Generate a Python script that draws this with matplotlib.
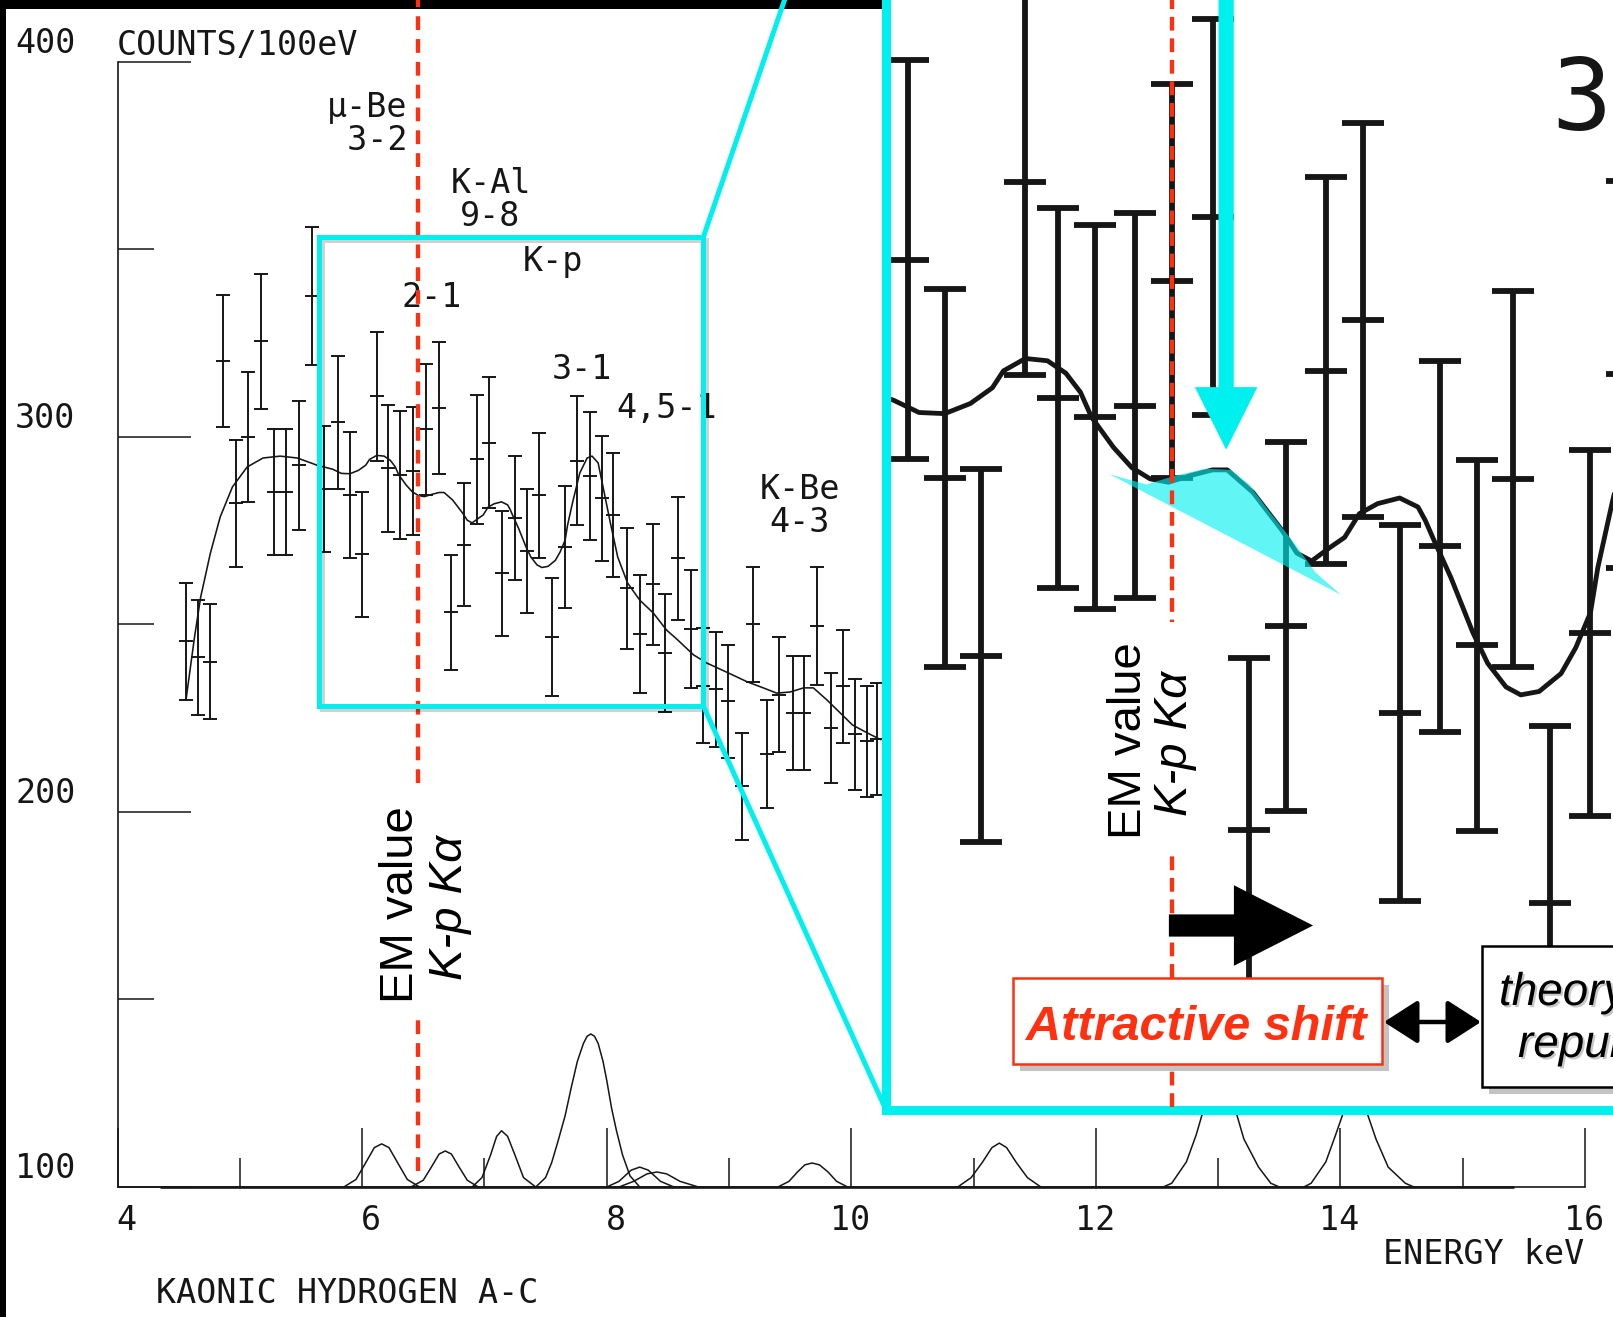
import numpy as np
import matplotlib
matplotlib.use("Agg")
import matplotlib.pyplot as plt
import matplotlib.patheffects as pe
import matplotlib.transforms as mtransforms
from matplotlib.patches import ConnectionPatch, FancyArrowPatch, Rectangle

# kaonic hydrogen spectrum, counts per 100 eV bin with statistical errors
energy = [4.56, 4.66, 4.76, 4.86, 4.97, 5.07, 5.17, 5.28, 5.38, 5.48,
          5.59, 5.69, 5.80, 5.90, 6.00, 6.12, 6.21, 6.31, 6.42, 6.52,
          6.63, 6.73, 6.83, 6.94, 7.04, 7.14, 7.25, 7.35, 7.45, 7.55,
          7.66, 7.76, 7.86, 7.96, 8.05, 8.17, 8.27, 8.38, 8.48, 8.58,
          8.69, 8.79, 8.89, 8.99, 9.11, 9.20, 9.31, 9.41, 9.52, 9.61,
          9.72, 9.83, 9.93, 10.03, 10.13, 10.21]
counts = [245.5, 241.2, 240.1, 320.3, 282.3, 300.0, 325.5, 285.3, 285.3, 292.4,
          337.6, 286.0, 303.9, 284.5, 268.7, 310.8, 291.6, 289.9, 290.9, 302.0,
          307.7, 253.2, 271.3, 294.0, 298.5, 263.6, 278.4, 269.6, 284.4, 246.7,
          270.7, 293.7, 289.6, 283.6, 279.2, 259.6, 247.5, 260.7, 242.4, 267.6,
          248.8, 233.7, 232.7, 229.5, 206.8, 250.0, 215.5, 231.3, 226.4, 226.4,
          249.6, 222.4, 233.5, 220.7, 218.8, 219.5]
errors = [15.6, 15.3, 15.3, 17.6, 16.9, 17.3, 18.0, 16.8, 16.8, 17.2,
          18.4, 16.8, 17.7, 16.8, 16.6, 17.2, 16.9, 17.1, 17.1, 17.5,
          17.6, 15.3, 16.4, 17.2, 17.5, 16.7, 16.5, 16.5, 16.7, 15.7,
          16.3, 17.2, 17.1, 16.7, 16.5, 16.1, 15.7, 16.1, 15.7, 16.4,
          15.7, 15.3, 15.3, 15.1, 14.3, 15.3, 14.4, 15.3, 15.2, 15.2,
          15.7, 14.7, 15.1, 14.8, 14.8, 14.9]

# fitted line through the spectrum
fit_energy = [4.56, 4.63, 4.68, 4.76, 4.84, 4.94, 5.06, 5.19, 5.33, 5.47,
              5.63, 5.76, 5.83, 5.90, 5.97, 6.03, 6.06, 6.12, 6.18, 6.23,
              6.27, 6.30, 6.36, 6.41, 6.46, 6.51, 6.57, 6.63, 6.67, 6.74,
              6.82, 6.86, 6.90, 6.95, 6.99, 7.03, 7.08, 7.14, 7.19, 7.21,
              7.23, 7.28, 7.34, 7.38, 7.43, 7.47, 7.52, 7.58, 7.62, 7.66,
              7.68, 7.72, 7.78, 7.84, 7.88, 7.93, 7.97, 8.03, 8.09, 8.17,
              8.27, 8.38, 8.49, 8.58, 8.71, 8.82, 8.98, 9.15, 9.28, 9.39,
              9.50, 9.61, 9.69, 9.80, 9.91, 10.01, 10.13, 10.24]
fit_counts = [229.9, 246.7, 257.3, 269.1, 278.7, 286.7, 292.0, 294.4, 294.9, 294.4,
              292.5, 291.4, 290.3, 290.2, 291.1, 292.5, 294.0, 295.1, 294.9, 293.8,
              292.1, 289.9, 287.2, 285.4, 284.4, 284.1, 284.7, 285.2, 285.2, 283.2,
              279.8, 277.8, 277.1, 278.3, 279.2, 281.3, 282.2, 282.7, 281.9, 280.7,
              279.2, 275.6, 270.7, 268.0, 265.9, 265.2, 265.5, 267.1, 269.4, 272.5,
              276.5, 282.4, 290.4, 294.4, 294.9, 293.1, 286.7, 277.1, 268.0, 261.1,
              256.5, 253.1, 248.5, 245.9, 241.9, 239.7, 237.3, 234.7, 233.1, 231.7,
              232.0, 233.1, 233.1, 229.9, 226.4, 223.2, 221.1, 219.3]

# fit components sitting on the 100-count baseline
comp_energy = [
    [5.85, 5.95, 6.03, 6.10, 6.16, 6.22, 6.29, 6.37, 6.47],
    [6.40, 6.50, 6.57, 6.63, 6.68, 6.73, 6.79, 6.86, 6.95],
    [6.90, 6.98, 7.05, 7.10, 7.14, 7.19, 7.25, 7.32, 7.42],
    [7.42, 7.50, 7.55, 7.60, 7.66, 7.71, 7.76, 7.81, 7.84, 7.87, 7.90, 7.93, 7.97,
     8.00, 8.04, 8.08, 8.13, 8.19, 8.27],
    [8.00, 8.10, 8.20, 8.27, 8.34, 8.44, 8.55],
    [8.10, 8.22, 8.33, 8.41, 8.49, 8.60, 8.75],
    [9.40, 9.49, 9.56, 9.62, 9.68, 9.74, 9.81, 9.88, 9.97],
    [10.87, 10.98, 11.07, 11.15, 11.21, 11.27, 11.35, 11.44, 11.55],
    [12.55, 12.62, 12.74, 12.82, 12.87, 12.94, 13.01, 13.08, 13.15, 13.21, 13.33, 13.43, 13.50],
    [13.70, 13.76, 13.88, 13.96, 14.02, 14.07, 14.12, 14.17, 14.22, 14.29, 14.39, 14.53, 14.60],
]
comp_counts = [
    [100, 102, 106.5, 110.5, 111.5, 110.5, 106.5, 102, 100],
    [100, 101.8, 105.5, 108.8, 109.6, 108.8, 105.5, 101.8, 100],
    [100, 102.5, 108.5, 113.5, 115, 113.5, 108.5, 102.5, 100],
    [100, 102.5, 106.5, 112, 119, 126.5, 133.5, 138.3, 140.2, 140.8, 140.2, 138.3, 133.5,
     128.5, 121, 115, 108.5, 103, 100],
    [100, 101.5, 104.5, 105.3, 104.5, 101.5, 100],
    [100, 101.5, 103.5, 104, 103.5, 101.5, 100],
    [100, 101.5, 104, 105.9, 106.4, 105.9, 104, 101.5, 100],
    [100, 102.5, 106.5, 110.5, 111.7, 110.5, 106.5, 102.5, 100],
    [100, 101, 106.7, 113.9, 119.5, 125, 127, 125, 119.5, 112.8, 105.3, 101, 100],
    [100, 101, 106.7, 113.9, 119.5, 123, 124.4, 123, 119.5, 112.8, 105.3, 101, 100],
]

# transition labels (centre of each label block)
label_text = ["\u03bc-Be\n 3-2", "K-Al\n9-8", "K-p", "2-1", "3-1", "4,5-1", "K-Be\n4-3"]
label_kev = [6.04, 7.05, 7.56, 6.57, 7.80, 8.49, 9.58]
label_counts = [383.5, 363.2, 346.9, 337.3, 317.9, 307.7, 281.6]

x_major = [4, 6, 8, 10, 12, 14, 16]
x_minor = [5, 7, 9, 11, 13, 15]
y_major = [100, 200, 300, 400]
y_minor = [150, 250, 350]

em_kev = 6.46        # EM value of the K-p K-alpha line
em_kev_inset = 6.52

# region shown magnified in the inset
zoom_kev = (5.65, 8.79)
zoom_counts = (228.3, 353.3)
inset_kev0 = 5.74
MAG = 3

# wedge marking the attractive shift below the fitted line
shift_kev = [6.35, 6.45, 6.53, 6.61, 6.68, 6.73, 6.78, 6.85, 6.91, 6.98]
shift_counts = [284.8, 283.9, 284.7, 285.3, 285.2, 283.9, 281.7, 278.8, 276.1, 274.1]

# ---------------------------------------------------------------------------
W, H, DPI = 1613, 1317, 100
PX_X4, PX_PER_KEV = 117.5, 122.3       # where 4 keV sits, pixels per keV
PX_Y300, PX_PER_COUNT = 437.0, 3.75    # where 300 counts sits, pixels per count
INSET_LEFT, INSET_BOTTOM = 886, 1110   # inset corner, pixels from top-left

INK = "#161616"
CYAN = "#00F0F0"
RED = "#FF3010"
SCAN_SIZE = 24
scan_font = dict(family="DejaVu Sans Mono", color=INK)
slide_font = "Liberation Sans"

fig = plt.figure(figsize=(W / DPI, H / DPI), dpi=DPI, facecolor="white")
px = mtransforms.Affine2D().scale(1 / W, -1 / H).translate(0, 1) + fig.transFigure

# black edges of the slide
fig.add_artist(Rectangle((0, 0), W, 9, transform=px, fc="black", ec="none", zorder=-1))
fig.add_artist(Rectangle((0, 0), 6, H, transform=px, fc="black", ec="none", zorder=-1))

ax = fig.add_axes([0, 0, 1, 1])
ax.patch.set_alpha(0)
ax.set_xlim(4 - PX_X4 / PX_PER_KEV, 4 + (W - PX_X4) / PX_PER_KEV)
ax.set_ylim(300 - (H - PX_Y300) / PX_PER_COUNT, 300 + PX_Y300 / PX_PER_COUNT)

for side in ("top", "right"):
    ax.spines[side].set_visible(False)
ax.spines["left"].set_position(("data", 4))
ax.spines["left"].set_bounds(100, 400)
ax.spines["bottom"].set_position(("data", 100))
ax.spines["bottom"].set_bounds(4, 16)
for side in ("left", "bottom"):
    ax.spines[side].set_linewidth(1.2)
    ax.spines[side].set_color(INK)

ax.set_xticks(x_major)
ax.set_xticks(x_minor, minor=True)
ax.set_yticks(y_major)
ax.set_yticks(y_minor, minor=True)
ax.tick_params(axis="x", which="major", direction="in", length=42.5, width=1.1, color=INK,
               labelbottom=False)
ax.tick_params(axis="x", which="minor", direction="in", length=21, width=1.1, color=INK)
ax.tick_params(axis="y", which="major", direction="in", length=52.5, width=1.1, color=INK,
               labelleft=False)
ax.tick_params(axis="y", which="minor", direction="in", length=26, width=1.1, color=INK)

xlab_off = mtransforms.ScaledTranslation(19 / DPI, -17 / DPI, fig.dpi_scale_trans)
for v in x_major:
    ax.text(v, 100, str(v), transform=ax.transData + xlab_off, ha="right", va="top",
            fontsize=SCAN_SIZE, **scan_font)
ylab_off = mtransforms.ScaledTranslation(-42 / DPI, 18 / DPI, fig.dpi_scale_trans)
for v in y_major:
    ax.text(4, v, str(v), transform=ax.transData + ylab_off, ha="right", va="center",
            fontsize=SCAN_SIZE, **scan_font)

ax.text(3.99, 404.3, "COUNTS/100eV", ha="left", va="center", fontsize=SCAN_SIZE, **scan_font)
ax.text(14.345, 81.9, "ENERGY keV", ha="left", va="center", fontsize=SCAN_SIZE, **scan_font)
ax.text(4.315, 71.5, "KAONIC HYDROGEN A-C", ha="left", va="center", fontsize=SCAN_SIZE,
        **scan_font)

# heavy baseline under the components
ax.plot([4.35, 15.42], [100, 100], color=INK, lw=1.9, solid_capstyle="butt")


def draw_spectrum(a, scale, xmax, ymax):
    a.errorbar(energy, counts, yerr=errors, fmt="_", color=INK, ms=10 * scale,
               mew=1.4 * scale, elinewidth=1.4 * scale, capsize=5 * scale,
               capthick=1.4 * scale)
    a.plot(fit_energy, fit_counts, color=INK, lw=1.15 * scale)
    for t, e, c in zip(label_text, label_kev, label_counts):
        if e < xmax and c < ymax:
            a.text(e, c, t, ha="center", va="center", multialignment="center",
                   linespacing=0.98, fontsize=SCAN_SIZE * scale, clip_on=True,
                   **scan_font)


draw_spectrum(ax, 1, 99, 999)
for ce, cc in zip(comp_energy, comp_counts):
    ax.plot(ce, cc, color=INK, lw=1.1)

ax.plot([em_kev, em_kev], [104.3, 420], color=RED, lw=3.1, dashes=(3.2, 2.1), zorder=5)

box = Rectangle((zoom_kev[0], zoom_counts[0]), zoom_kev[1] - zoom_kev[0],
                zoom_counts[1] - zoom_counts[0], fill=False, ec=CYAN, lw=3.6, zorder=6,
                path_effects=[pe.SimpleLineShadow(offset=(2, -2), alpha=0.18), pe.Normal()])
ax.add_patch(box)

# magnified inset
w_in = (zoom_kev[1] - zoom_kev[0]) * PX_PER_KEV * MAG
h_in = (zoom_counts[1] - zoom_counts[0]) * PX_PER_COUNT * MAG
ax_in = fig.add_axes([INSET_LEFT / W, 1 - INSET_BOTTOM / H, w_in / W, h_in / H], zorder=1)
ax_in.set_facecolor("white")
ax_in.set_xlim(inset_kev0, inset_kev0 + w_in / (PX_PER_KEV * MAG))
ax_in.set_ylim(*zoom_counts)
ax_in.set_xticks([])
ax_in.set_yticks([])
for s in ax_in.spines.values():
    s.set_color(CYAN)
    s.set_linewidth(6.5)

# part of the inset that lands on the page (labels may start just inside it)
vis_kev = inset_kev0 + (W - INSET_LEFT) / (PX_PER_KEV * MAG) + 0.5
vis_counts = zoom_counts[0] + INSET_BOTTOM / (PX_PER_COUNT * MAG)
draw_spectrum(ax_in, MAG, vis_kev, vis_counts)
ax_in.fill(shift_kev, shift_counts, color=CYAN, alpha=0.62, lw=0, zorder=4)
ax_in.plot([em_kev_inset, em_kev_inset], [228.6, 340], color=RED, lw=3.1,
           dashes=(3.2, 1.8), zorder=5)
ax_in.annotate("", xy=(6.667, 287.0), xytext=(6.667, 345),
               arrowprops=dict(width=11, headwidth=45, headlength=45, color=CYAN, lw=0,
                               shrink=0), zorder=6)
ax_in.annotate("", xy=(6.904, 244.7), xytext=(6.511, 244.7),
               arrowprops=dict(width=16, headwidth=58, headlength=57, color="black", lw=0,
                               shrink=0), zorder=6)

for xy_b in [(0, 1), (0, 0)]:
    yA = zoom_counts[1] if xy_b[1] == 1 else zoom_counts[0]
    con = ConnectionPatch(xyA=(zoom_kev[1], yA), coordsA=ax.transData,
                          xyB=xy_b, coordsB=ax_in.transAxes, color=CYAN, lw=3.6, zorder=1.5)
    fig.add_artist(con)

# EM value labels (main panel and inset), white gaps cut into the dashed lines
for (x0, y0, x1, y1) in [(366, 785, 470, 1018), (1093, 622, 1200, 856)]:
    fig.add_artist(Rectangle((x0, y0), x1 - x0, y1 - y0, transform=px, fc="white",
                             ec="none", zorder=2))
for bx1, bx2, yc in [(413, 462, 905), (1141, 1187, 741)]:
    fig.text(bx1, yc, "EM value", transform=px, rotation=90, rotation_mode="anchor",
             ha="center", va="baseline", fontsize=34, family=slide_font, color="black",
             zorder=4)
    fig.text(bx2, yc + 2, "K-p K\u03b1", transform=px, rotation=90, rotation_mode="anchor",
             ha="center", va="baseline", fontsize=34, family=slide_font, style="italic",
             color="black", zorder=4)

shadow = [pe.SimplePatchShadow(offset=(5, -5), shadow_rgbFace="#555555", alpha=0.35),
          pe.Normal()]
fig.add_artist(Rectangle((1013, 978), 369, 86, transform=px, fc="white", ec=RED, lw=1.8,
                         zorder=3, path_effects=shadow))
fig.text(1196.5, 1040, "Attractive shift", transform=px, ha="center", va="baseline",
         fontsize=35, family=slide_font, weight="bold", style="italic", color=RED, zorder=4)

fig.add_artist(Rectangle((1482, 946), 300, 141, transform=px, fc="white", ec="black",
                         lw=1.8, zorder=3, path_effects=shadow))
txt_shadow = [pe.SimplePatchShadow(offset=(1.5, -1.5), shadow_rgbFace="#777777", alpha=0.4),
              pe.Normal()]
fig.text(1499, 1005, "theory", transform=px, ha="left", va="baseline", fontsize=33,
         family=slide_font, style="italic", color="black", zorder=4, path_effects=txt_shadow)
fig.text(1518, 1057, "repulsive", transform=px, ha="left", va="baseline", fontsize=33,
         family=slide_font, style="italic", color="black", zorder=4, path_effects=txt_shadow)

fig.add_artist(FancyArrowPatch((1384, 1022), (1481, 1022), transform=px,
                               arrowstyle="<|-|>,head_length=0.7,head_width=0.45",
                               mutation_scale=30, lw=3.2, color="black",
                               shrinkA=0, shrinkB=0, zorder=4))

fig.savefig("out.png", dpi=DPI, facecolor="white")
